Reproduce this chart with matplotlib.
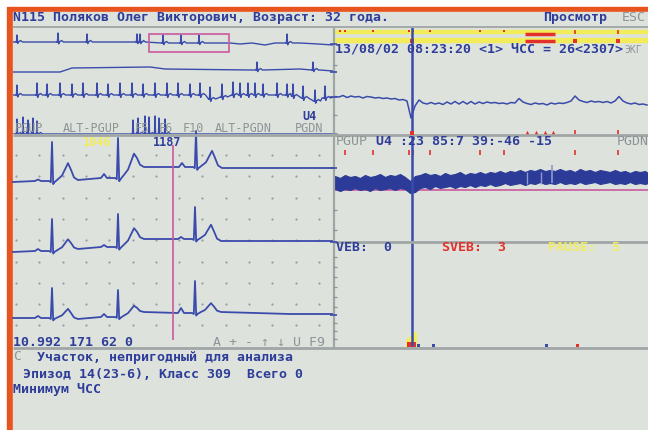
#!/usr/bin/env python3
# -*- coding: utf-8 -*-
"""
Holter review screen (pause episode) redrawn with matplotlib, saved to out.png
"""

import numpy as np
import matplotlib
matplotlib.use("Agg")  # no display
import matplotlib.pyplot as plt
from matplotlib.patches import Rectangle

## Screen texts
header = "N115 Поляков Олег Викторович, Возраст: 32 года."
mode_label = "Просмотр"
time_line = "13/08/02 08:23:20 <1> ЧСС = 26<2307>"
key_names = ["PGUP", "ALT-PGUP", "F5", "F6", "F10", "ALT-PGDN", "PGDN"]
key_cols = [0, 6, 15, 18, 21, 25, 35]  # character column of each key hint
lead_label = "U4"
rr_labels = ["1046", "1187"]
status_left = "10.992 171 62 0"
status_keys = "A + - ↑ ↓ U F9"
st_line = "U4 :23 85:7 39:-46 -15"
count_names = ["VEB:", "SVEB:", "PAUSE:"]
count_values = [0, 3, 5]
msg_lines = ["Участок, непригодный для анализа",
             "Эпизод 14(23-6), Класс 309  Всего 0",
             "Минимум ЧСС"]

## Big strips (three leads): beat time (samples), baseline before/after beat, R, T and P amplitudes
lead_a_t = [39, 105, 183]
lead_a_pre = [1, 4, 15]
lead_a_post = [2, 15, 14]
lead_a_r = [39, 40, 36]
lead_a_tw = [17, 15, 17]
lead_a_p = [1.5, 4, 4]
lead_a_tail = ([320], [14])

lead_b_t = [39, 105, 182]
lead_b_pre = [1, 5, 13]
lead_b_post = [3, 13, 11]
lead_b_r = [32, 33, 32]
lead_b_tw = [10, 12, 16]
lead_b_p = [2, 2, 2]
lead_b_tail = ([320], [11])

lead_c_t = [39, 105, 182]
lead_c_pre = [0, 1, 5]
lead_c_post = [-1, 6, 6]
lead_c_r = [30, 27, 32]
lead_c_tw = [10, 7, 9]
lead_c_p = [2, 3, 5]
lead_c_tail = ([277, 320], [4, 4])

## Overview strips (compressed): baseline wander and beats
ov1_base_t = [0, 87, 132, 217, 227, 239, 252, 262, 287, 305, 320]
ov1_base_a = [0, 0, -1, -1, -2, -1, -3, -1, -1, -2, -3]
ov1_beat_t = [4, 45, 74, 124, 127, 150, 168, 186, 274]
ov1_beat_b = [0, 0, 0, 0, 0, -1, -1, -1, -1]
ov1_beat_r = [7, 9, 8, 8, 8, 8, 8, 8, 9]

ov2_base_t = [0, 47, 59, 137, 152, 237, 287, 307, 320]
ov2_base_a = [-2, -2, 2, 3, 1, 0, 1, 0, -1]
ov2_beat_t = [244, 300]
ov2_beat_b = [0, 0]
ov2_beat_r = [8, 8]

ov3_base_t = [0, 87, 182, 192, 202, 215, 277, 292, 302, 309, 320]
ov3_base_a = [0, 0, 0, -3, -4, -1, -1, -4, -6, -3, -2]
ov3_beat_t = [4, 24, 34, 47, 59, 70, 84, 95, 107, 119, 130, 142, 154, 165, 177,
              187, 197, 209, 220, 227, 235, 242, 250, 264, 274, 280, 290, 302, 312]
ov3_beat_b = [0, 0, 0, 0, 0, 0, 0, 0, 0, 0, 0, 0, 0, 0, 0,
              0, -4, -2, 0, 0, 0, 0, 0, 0, 0, -1, -3, -6, -3]
ov3_beat_r = [10, 12, 11, 12, 11, 12, 12, 11, 12, 12, 11, 12, 12, 12, 11,
              12, 12, 13, 13, 12, 12, 12, 11, 12, 11, 12, 12, 11, 12]

ov4_base_t = [0, 320]
ov4_base_a = [0, 0]
ov4_beat_t = [4, 10, 15, 20, 24, 120, 125, 132, 136, 142, 146, 152]
ov4_beat_b = [0] * 12
ov4_beat_r = [15, 17, 14, 16, 13, 14, 16, 18, 17, 18, 16, 15]

## Right side: single lead around the cursor, 4-sample steps
trace_amp = [3.5, 3, 4.5, 2.5, 4, 3, 3.5, 2, 3.5, 3,
             2, 2.5, 1.5, 2, 1, 1.5, 0, 0.5, -1, -18,
             -6, 0, -3, -4, -2.5, -4, -3, -4.5, -2, -4,
             -1.5, -4, -1.5, -4, -1.5, -4, -2, -3.5, -2, -3,
             -2.5, -3.5, -3, -4, -2.5, -3, 1.5, -2, -3.5, -4.5,
             -3, -4, -3.5, -5, -3, -4, -3, -3.5, -2.5, -1,
             4, 0, -1.5, -2.5, -1, -2, -1.5, -2.5, -1.5, -3,
             -1, 3.5, -1, -3, -4, -3, -4.5, -4, -5]

## Right side: trend band (upper / lower envelope), 5-sample steps
band_top = [14, 12, 15, 13, 14, 12, 15, 13, 14, 16,
            13, 15, 14, 16, 13, 9, 14, 15, 17, 15,
            16, 14, 17, 15, 16, 18, 15, 17, 16, 18,
            16, 18, 17, 19, 17, 19, 18, 20, 18, 20,
            19, 21, 19, 20, 19, 21, 19, 20, 18, 21,
            19, 20, 18, 20, 19, 18, 20, 18, 19, 17,
            19, 18, 19, 17]
band_bot = [1, -1, 1, 0, 2, 0, 1, -1, 2, 0,
            1, 2, 0, 2, 1, -3, -2, 2, 3, 1,
            4, 2, 3, 4, 2, 4, 3, 5, 3, 5,
            4, 6, 4, 5, 7, 5, 6, 7, 5, 7,
            6, 8, 6, 7, 6, 8, 6, 7, 6, 8,
            6, 7, 8, 6, 7, 8, 6, 7, 6, 8,
            6, 7, 6, 7]

## Event marks and histogram on the right (time in samples from panel edge)
event_t = [7, 12, 40, 76, 80, 97, 147, 171, 242, 285]
episode_t = [192, 222]
cursor_t = 79
pause_bin_t = [73, 76, 80]
pause_cnt = [8, 11, 15]
sveb_bin_t = [74, 77, 80, 243]
sveb_cnt = [5, 5, 5, 3]
veb_bin_t = [84, 99, 212]
veb_cnt = [3, 3, 3]

## Colours
BG = "#dde3dc"
BLUE = "#2f3d9a"
ECG = "#3b4bab"
GRAY = "#8e9496"
LINE = "#a0a6a6"
ORANGE = "#e9541e"
YELLOW = "#f2ec5a"
RED = "#e2312b"
PINK = "#cc5a9e"

plt.rcParams["font.family"] = ["DejaVu Sans Mono", "DejaVu Sans"]

## Beat templates
BEAT_DT = [-17, -14, -11, -3, -1.2, 0, 1.2, 2.5, 6, 10, 13, 16, 19, 22, 26]
BEAT_P = [0, 1, 0, 0, 0, 0, 0, 0, 0, 0, 0, 0, 0, 0, 0]
BEAT_R = [0, 0, 0, 0, -0.03, 1, -0.08, -0.03, 0, 0, 0, 0, 0, 0, 0]
BEAT_T = [0, 0, 0, 0, 0, 0, 0, 0, 0.1, 0.3, 0.65, 1, 0.6, 0.15, 0]
BEAT_F = [0, 0, 0, 0, 0, 0, 0, 0, 0.15, 0.35, 0.6, 0.85, 1, 1, 1]

OV_DT = [-1.5, -0.6, 0, 0.7, 1.5, 3.5, 5.5]
OV_R = [0, -0.05, 1, -0.2, 0, 0, 0]
OV_T = [0, 0, 0, 0, 0, 1.5, 0]


def big_lead(beat_t, pre, post, r, tw, p, tail):
    ts, amps = [0.0], [0.0]
    for i in range(len(beat_t)):
        for dt, ps, rs, tsh, f in zip(BEAT_DT, BEAT_P, BEAT_R, BEAT_T, BEAT_F):
            ts.append(beat_t[i] + dt)
            amps.append(pre[i] + (post[i] - pre[i]) * f + p[i] * ps + r[i] * rs + tw[i] * tsh)
    ts += tail[0]
    amps += tail[1]
    return np.array(ts), np.array(amps)


def overview(base_t, base_a, beat_t, beat_b, beat_r):
    pts = [(t, a) for t, a in zip(base_t, base_a)
           if all(not (bt - 2 <= t <= bt + 6) for bt in beat_t)]
    for bt, bb, br in zip(beat_t, beat_b, beat_r):
        pts += [(bt + dt, bb + br * rs + ts) for dt, rs, ts in zip(OV_DT, OV_R, OV_T)]
    pts.sort()
    return np.array([q[0] for q in pts]), np.array([q[1] for q in pts])


def label(x, y, s, color=BLUE, bold=True, size=9.5):
    ax.text(x, y, s, color=color, fontsize=size, fontweight="bold" if bold else "normal",
            ha="left", va="center", zorder=6)


fig = plt.figure(figsize=(6.48, 4.30), dpi=100)
ax = fig.add_axes([0, 0, 1, 1])
ax.set_xlim(0, 648)
ax.set_ylim(430, 0)
ax.axis("off")

## Frame and screen background
ax.add_patch(Rectangle((7, 7), 641, 423, color=ORANGE, zorder=0))
ax.add_patch(Rectangle((12.5, 12), 636, 418, color=BG, zorder=0))

## Panel dividers
ax.hlines(27, 13, 648, color=LINE, lw=1.3, zorder=5)
ax.vlines(333.5, 27, 348, color=LINE, lw=1.6, zorder=5)
ax.hlines(134.5, 13, 648, color=LINE, lw=2, zorder=5)
ax.hlines(242, 333, 648, color=LINE, lw=2, zorder=5)
ax.hlines(348, 13, 648, color=LINE, lw=2, zorder=5)

## Header
label(13, 17.5, header)
label(543, 17.5, mode_label)
label(622, 17.5, "ESC", color=GRAY, bold=False)

## Overview strips (top left)
clip = Rectangle((13, 27), 320, 107, transform=ax.transData)
for row, spec in [(42, (ov1_base_t, ov1_base_a, ov1_beat_t, ov1_beat_b, ov1_beat_r)),
                  (70, (ov2_base_t, ov2_base_a, ov2_beat_t, ov2_beat_b, ov2_beat_r)),
                  (95, (ov3_base_t, ov3_base_a, ov3_beat_t, ov3_beat_b, ov3_beat_r)),
                  (134, (ov4_base_t, ov4_base_a, ov4_beat_t, ov4_beat_b, ov4_beat_r))]:
    t, a = overview(*spec)
    ln, = ax.plot(13 + t, row - a, color=ECG, lw=1.0, zorder=2)
    ln.set_clip_path(clip)
ax.add_patch(Rectangle((149, 34), 80, 18, fill=False, ec=PINK, lw=1.2, zorder=3))
label(302, 116, lead_label, size=8.5)
for name, col in zip(key_names, key_cols):
    label(15 + 8 * col, 129, name, color=GRAY, bold=False, size=8.5)

## Big strips (left)
gx, gy = np.meshgrid(16 + 23.3 * np.arange(14), 155 + 21.3 * np.arange(9))
ax.scatter(gx.ravel(), gy.ravel(), s=2.5, color="#959ca0", lw=0, zorder=1)
for row, spec in [(182, (lead_a_t, lead_a_pre, lead_a_post, lead_a_r, lead_a_tw, lead_a_p, lead_a_tail)),
                  (252, (lead_b_t, lead_b_pre, lead_b_post, lead_b_r, lead_b_tw, lead_b_p, lead_b_tail)),
                  (318, (lead_c_t, lead_c_pre, lead_c_post, lead_c_r, lead_c_tw, lead_c_p, lead_c_tail))]:
    t, a = big_lead(*spec)
    ax.plot(13 + t, row - a, color=ECG, lw=1.3, zorder=2)
ax.vlines(173, 145, 340, color=PINK, lw=1.2, zorder=3)
label(83, 142.5, rr_labels[0], color=YELLOW, size=8.5)
label(153, 142.5, rr_labels[1], size=8.5)
label(13, 342, status_left)
label(213, 342, status_keys, color=GRAY, bold=False)

## Top right: event bands and the lead around the cursor
ax.add_patch(Rectangle((334, 29.5), 314, 3.5, color=YELLOW, zorder=1))
ax.add_patch(Rectangle((334, 38), 314, 3.5, color=YELLOW, zorder=1))
ev = 333 + np.array(event_t)
ax.scatter(ev[:-2], np.full(len(ev) - 2, 31), marker="s", s=3, color=RED, lw=0, zorder=3)
ax.vlines(ev[-2:], 29.5, 34, color=RED, lw=1.2, zorder=3)
ax.hlines([33.5, 41], 333 + episode_t[0], 333 + episode_t[1], color=RED, lw=2.5, zorder=3)
ax.scatter([333 + cursor_t] + list(ev[-2:]), [41, 41, 41], marker="s", s=6, color=RED, lw=0, zorder=3)
label(335, 48.5, time_line)
label(624, 50, "ЭКГ", color=GRAY, bold=False, size=7)
trace_t = np.arange(2, 315, 4)
ax.plot(333 + trace_t, 100 - np.array(trace_amp), color=ECG, lw=1.1, zorder=2)

## Cursor line across the right panels
ax.vlines(333 + cursor_t, 27, 346, color=ECG, lw=1.8, zorder=4)
ax.scatter([333 + cursor_t], [132.5], marker="s", s=6, color=RED, lw=0, zorder=5)
ax.scatter([527, 536, 545, 553], [132] * 4, marker="^", s=6, color=RED, lw=0, zorder=5)
ax.vlines(ev[-2:], 130, 134, color=RED, lw=1.2, zorder=5)

## Right middle: trend band
label(336, 141.5, "PGUP", color=GRAY, bold=False)
label(376, 141.5, st_line)
label(617, 141.5, "PGDN", color=GRAY, bold=False)
ax.vlines(ev[1:], 150, 155, color=RED, lw=1.2, zorder=3)
band_t = np.r_[np.arange(2, 313, 5), 315]
ax.fill_between(333 + band_t, 190 - np.array(band_top), 190 - np.array(band_bot),
                color="#2c3b97", lw=0.8, zorder=2)
ax.vlines([527, 541], 172, 184, color="#8c9ad0", lw=1, zorder=3)
ax.vlines(552, 165, 183, color="#8c9ad0", lw=1.2, zorder=3)
ax.hlines(190, 333, 648, color=PINK, lw=1.2, zorder=1)

## Bottom right: counters and histogram
for x, name, val, col in zip([336, 442, 548], count_names, count_values, [BLUE, RED, YELLOW]):
    label(x, 247.5, name + "  " + str(val), color=col)
ax.bar(333 + np.array(pause_bin_t), -np.array(pause_cnt), bottom=347, width=3.5, align="edge",
       color=YELLOW, zorder=2)
ax.bar(333 + np.array(sveb_bin_t), -np.array(sveb_cnt), bottom=347, width=3, align="edge",
       color=RED, zorder=3)
ax.bar(333 + np.array(veb_bin_t), -np.array(veb_cnt), bottom=347, width=3, align="edge",
       color=ECG, zorder=3)

## Scale ticks on the right panels
ax.hlines([44, 72, 97, 168, 242, 315], 330, 337, color=ECG, lw=1.2, zorder=5)
ax.hlines([65, 115, 133, 210, 230, 257, 267, 277, 287, 297, 307, 323, 331, 339], 333, 337,
          color=GRAY, lw=0.9, zorder=5)

## Message lines
label(13, 357, "C", color=GRAY, bold=False)
label(37, 357, msg_lines[0])
label(23, 374, msg_lines[1])
label(13, 390, msg_lines[2])

fig.savefig("out.png", dpi=100, facecolor="white")
plt.close("all")
